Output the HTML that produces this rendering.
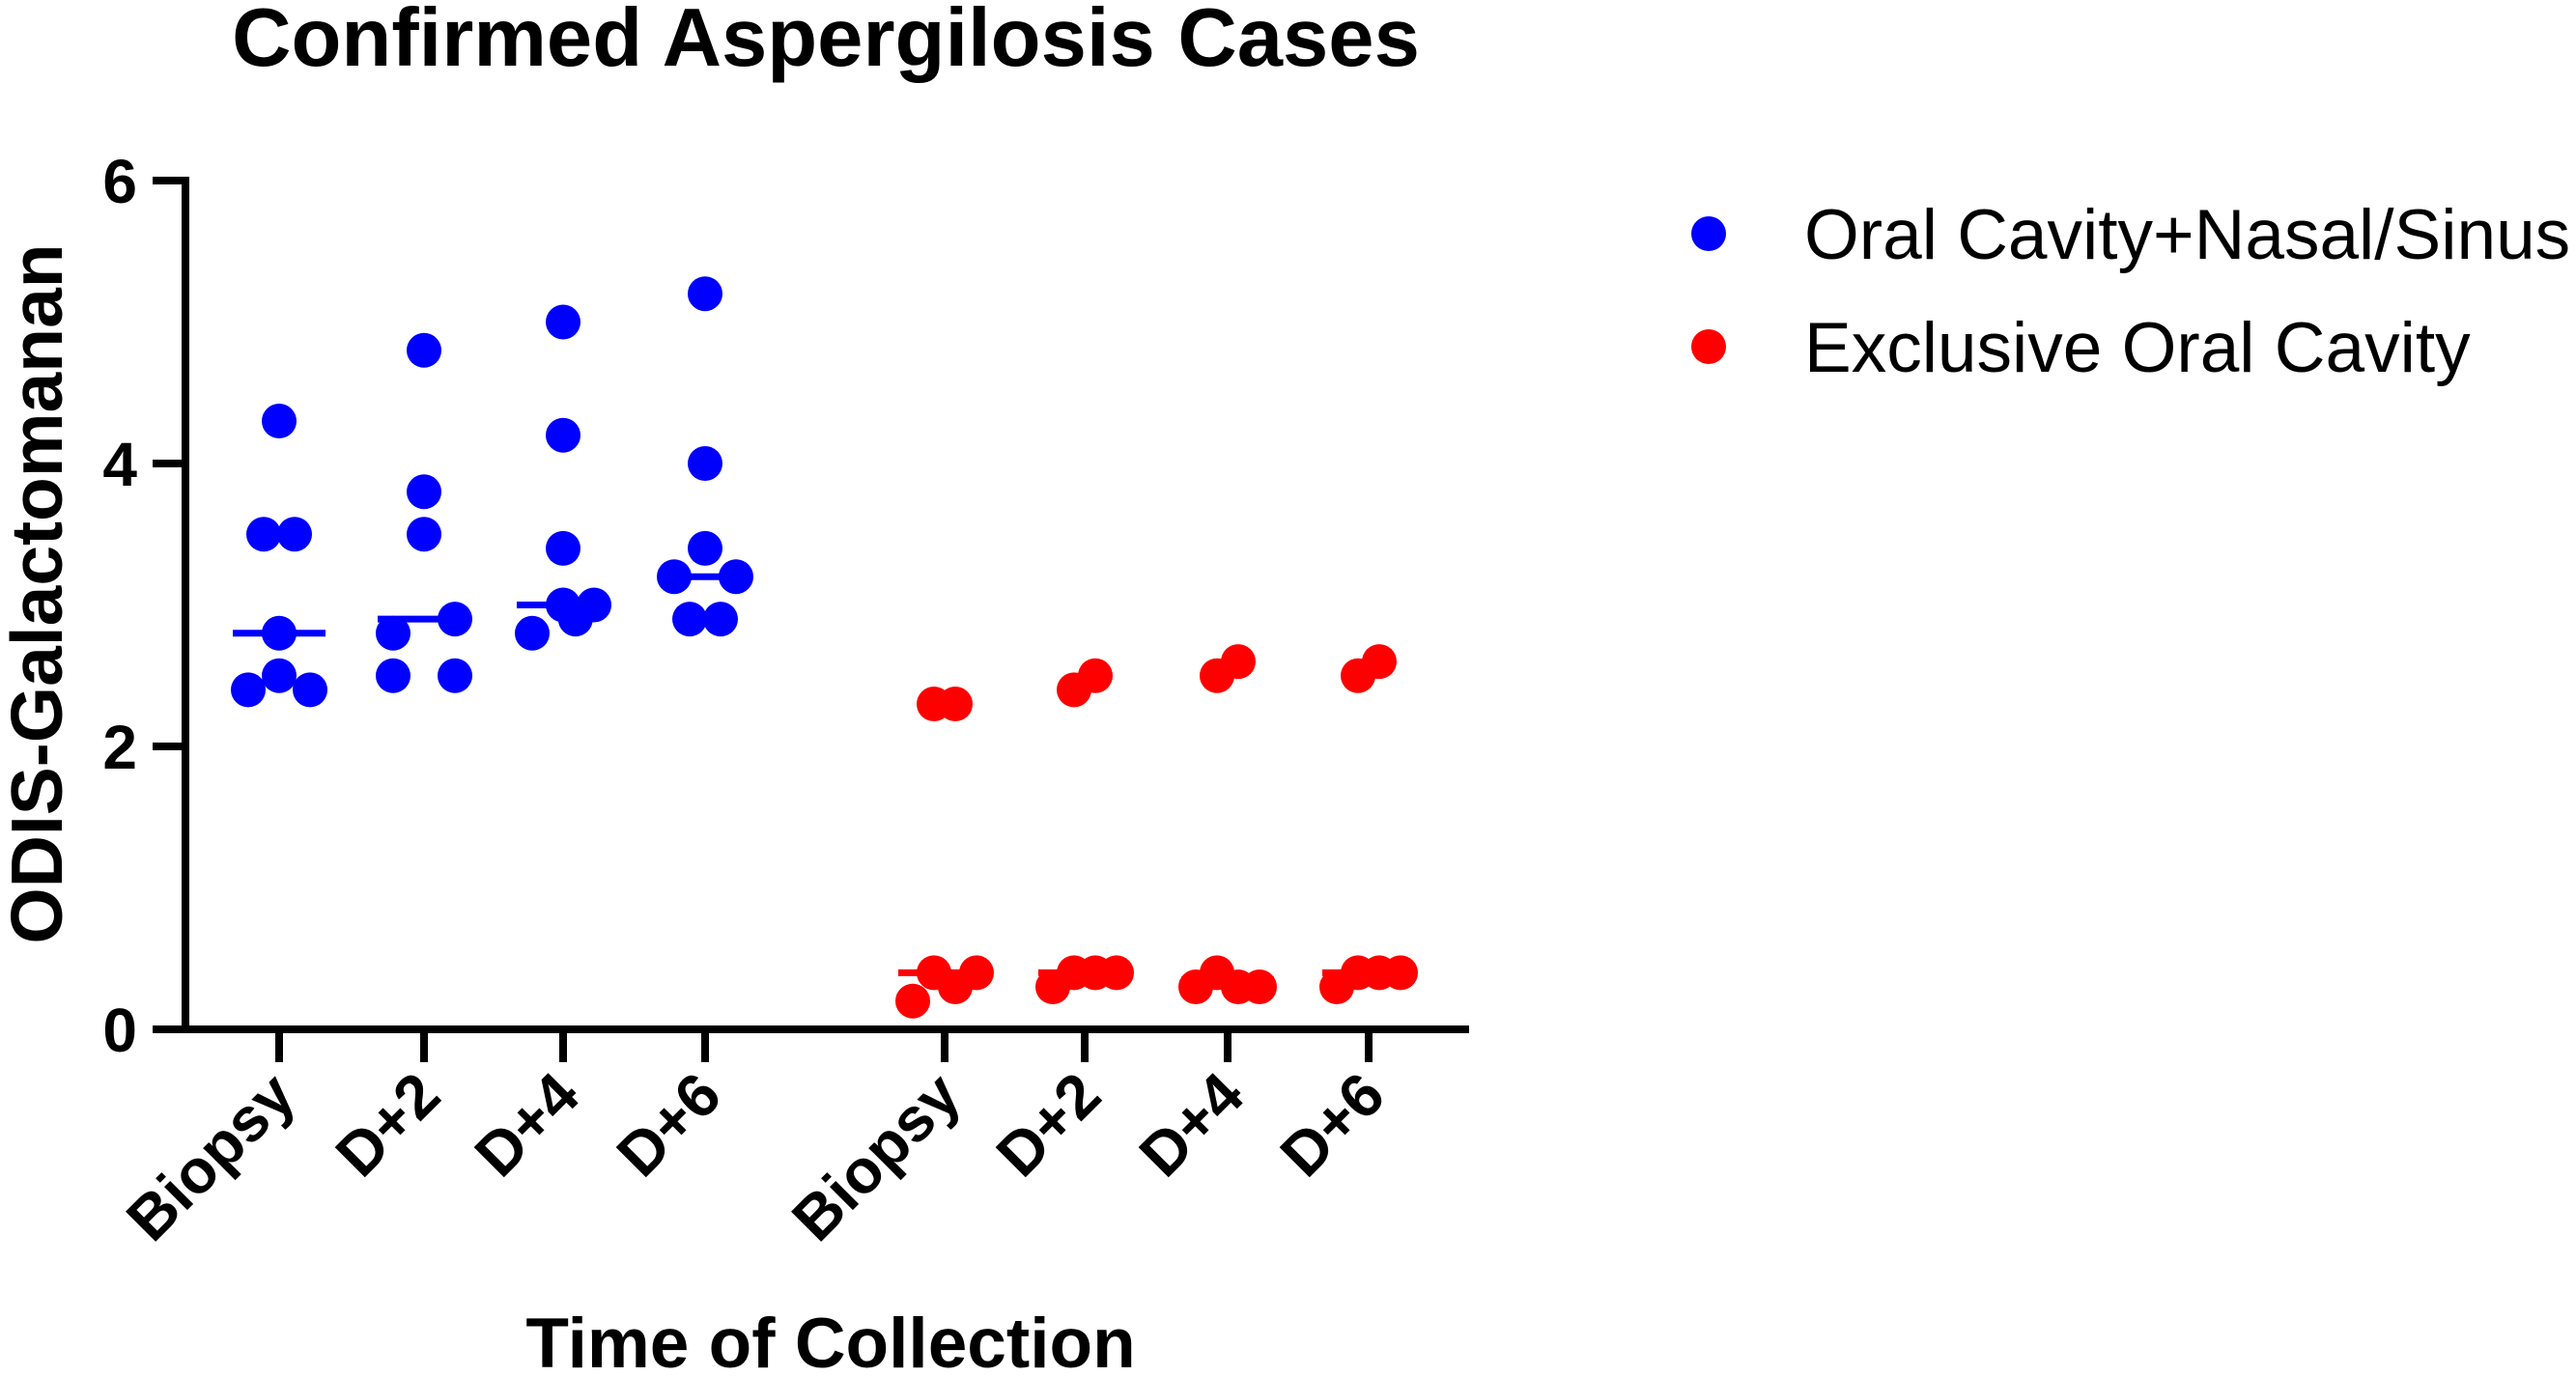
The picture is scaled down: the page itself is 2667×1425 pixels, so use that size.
<!DOCTYPE html>
<html><head><meta charset="utf-8"><style>body{margin:0;background:#fff}svg{display:block}text{font-family:"Liberation Sans",Arial,sans-serif}</style></head>
<body>
<svg id="c" width="2667" height="1425" viewBox="0 0 2667 1425">
<text x="855" y="68" text-anchor="middle" font-size="85" font-weight="bold">Confirmed Aspergilosis Cases</text>
<text transform="translate(64,615) rotate(-90)" text-anchor="middle" font-size="75" font-weight="bold">ODIS-Galactomanan</text>
<text x="860" y="1416" text-anchor="middle" font-size="73" font-weight="bold">Time of Collection</text>
<g id="axes"></g><g id="marks"></g>
<g>
<circle cx="1769" cy="242" r="18" fill="#0000ff"/>
<text x="1868" y="268" font-size="73">Oral Cavity+Nasal/Sinus</text>
<circle cx="1769" cy="359" r="18" fill="#ff0000"/>
<text x="1868" y="385" font-size="73">Exclusive Oral Cavity</text>
</g>
</svg>
<script>
const categories = ["Biopsy","D+2","D+4","D+6","Biopsy","D+2","D+4","D+6"];
const yTicks = [0,2,4,6];
const blueValues = [[4.3,3.5,3.5,2.8,2.5,2.4,2.4],[4.8,3.8,3.5,2.9,2.8,2.5,2.5],[5.0,4.2,3.4,3.0,3.0,2.9,2.8],[5.2,4.0,3.4,3.2,3.2,2.9,2.9]];
const blueJitter = [[0,-1,1,0,0,-2,2],[0,0,0,2,-2,-2,2],[0,0,0,0,2,0.8,-2],[0,0,0,-2,2,-1,1]];
const redValues = [[2.3,2.3,0.4,0.4,0.3,0.2],[2.4,2.5,0.4,0.4,0.4,0.3],[2.5,2.6,0.4,0.3,0.3,0.3],[2.5,2.6,0.4,0.4,0.4,0.3]];
const redJitter = [[-1,1,-1,3,1,-3],[-1,1,-1,1,3,-3],[-1,1,-1,-3,1,3],[-1,1,-1,1,3,-3]];
const tickX = [289,439,583,730,978,1123,1271,1417];
const NS="http://www.w3.org/2000/svg";
const y0=1066, y6=187;
function yS(v){return y0-(v/6)*(y0-y6);}
function mk(t,a,p){const e=document.createElementNS(NS,t);for(const k in a)e.setAttribute(k,a[k]);p.appendChild(e);return e;}
const axes=document.getElementById('axes'), marks=document.getElementById('marks');
let e=mk('line',{x1:192,y1:yS(6)-4,x2:192,y2:y0+4,stroke:'#000','stroke-width':8},axes);


e=mk('line',{x1:188,y1:y0,x2:1521,y2:y0,stroke:'#000','stroke-width':8},axes);


yTicks.forEach(v=>{
 let t=mk('line',{x1:158,y1:yS(v),x2:192,y2:yS(v),stroke:'#000','stroke-width':8},axes);
 
 
 let l=mk('text',{x:142,y:yS(v)+23,'text-anchor':'end','font-size':64,'font-weight':'bold'},axes);
 l.textContent=v;
 
 
});
categories.forEach((c,i)=>{
 let t=mk('line',{x1:tickX[i],y1:y0,x2:tickX[i],y2:y0+34,stroke:'#000','stroke-width':8},axes);
 
 
 let l=mk('text',{transform:`translate(${tickX[i]+20},${y0+72}) rotate(-45)`,'text-anchor':'end','font-size':64,'font-weight':'bold'},axes);
 l.textContent=c;
 
 
});
function median(a){const s=[...a].sort((p,q)=>p-q);const n=s.length;return n%2?s[(n-1)/2]:(s[n/2-1]+s[n/2])/2;}
function drawGroup(vals,jit,offset,unit,color,name){
 vals.forEach((arr,g)=>{
  const cx=tickX[g+offset];
  const m=median(arr);
  let ml=mk('line',{x1:cx-48,y1:yS(m),x2:cx+48,y2:yS(m),stroke:color,'stroke-width':7},marks);
  
  
  arr.forEach((v,k)=>{
   let d=mk('circle',{cx:cx+jit[g][k]*unit,cy:yS(v),r:18,fill:color},marks);
   
   
  });
 });
}
drawGroup(blueValues,blueJitter,0,16,'#0000ff','oral-nasal');
drawGroup(redValues,redJitter,4,11,'#ff0000','exclusive-oral');
</script>
</body></html>
